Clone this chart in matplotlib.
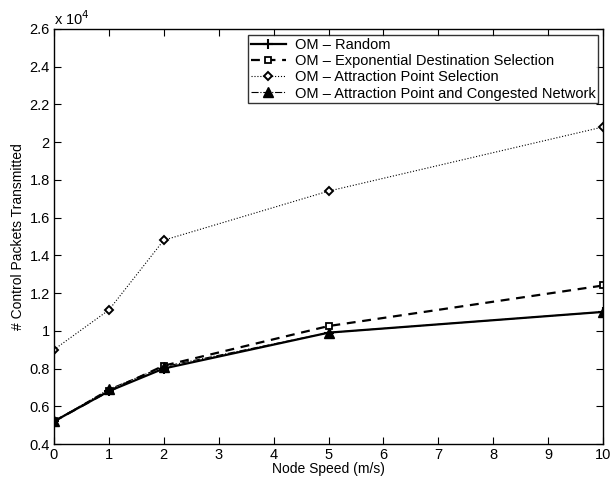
import matplotlib
matplotlib.use("Agg")
import matplotlib.pyplot as plt
from matplotlib.ticker import FixedLocator

plt.rcParams['font.family'] = ['Liberation Sans', 'DejaVu Sans']

speed = [0, 1, 2, 5, 10]
om_random = [0.52, 0.68, 0.80, 0.99, 1.10]
om_exponential = [0.52, 0.68, 0.815, 1.025, 1.24]
om_attraction = [0.90, 1.11, 1.48, 1.74, 2.08]
om_congested = [0.52, 0.69, 0.81, 0.99, 1.10]

labels = [
    "OM \u2013 Random",
    "OM \u2013 Exponential Destination Selection",
    "OM \u2013 Attraction Point Selection",
    "OM \u2013 Attraction Point and Congested Network",
]

fig = plt.figure(figsize=(6.13, 4.80), dpi=100)
ax = fig.add_axes([0.088, 0.075, 0.896, 0.865])

ax.plot(speed, om_random, color='k', linestyle='-', linewidth=1.6,
        marker='+', markersize=7, markeredgewidth=1.5, label=labels[0])
ax.plot(speed, om_exponential, color='k', linestyle='--', linewidth=1.6,
        dashes=(4, 3), marker='s', markersize=5, markerfacecolor='w',
        markeredgewidth=1.3, label=labels[1])
ax.plot(speed, om_attraction, color='k', linestyle=':', linewidth=0.8,
        marker='D', markersize=4.5, markerfacecolor='w',
        markeredgewidth=1.4, label=labels[2])
ax.plot(speed, om_congested, color='k', linestyle='-.', linewidth=0.8,
        marker='^', markersize=6.5, markerfacecolor='k', label=labels[3])

ax.set_xlim(0, 10)
ax.set_ylim(0.4, 2.6)
ax.xaxis.set_major_locator(FixedLocator(range(0, 11)))
yt = [0.4 + 0.2 * i for i in range(12)]
ax.yaxis.set_major_locator(FixedLocator(yt))
ax.set_yticklabels(["%g" % round(v, 1) for v in yt])

ax.tick_params(direction='in', top=True, right=True, labelsize=10.5,
               length=5, width=0.8, pad=3)
for s in ax.spines.values():
    s.set_linewidth(1.0)

ax.set_xlabel("Node Speed (m/s)", fontsize=10, labelpad=0)
ax.set_ylabel("# Control Packets Transmitted", fontsize=10, labelpad=3)
ax.text(0.0, 1.003, "x 10$^4$", transform=ax.transAxes, fontsize=10.5,
        ha='left', va='bottom')

leg = ax.legend(loc='upper right', fontsize=10.5, frameon=True, fancybox=False,
                edgecolor='k', borderpad=0.2, labelspacing=0.15,
                handlelength=2.4, handletextpad=0.6, borderaxespad=0.0,
                bbox_to_anchor=(0.991, 0.985))
leg.get_frame().set_linewidth(1.0)

fig.savefig("out.png", dpi=100)
